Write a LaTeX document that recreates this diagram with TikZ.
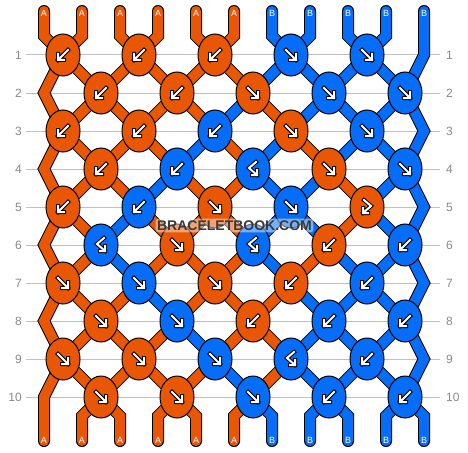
\documentclass[tikz,border=0pt]{standalone}
\usepackage{fontspec}
\setmainfont{Liberation Sans}
\usetikzlibrary{shapes.geometric}
\definecolor{kO}{RGB}{233,87,4}
\definecolor{kB}{RGB}{5,109,247}
\definecolor{gridgray}{RGB}{192,192,192}
\definecolor{numgray}{RGB}{138,138,138}
\definecolor{wmark}{RGB}{58,58,58}
\pgfdeclarelayer{gridlayer}
\pgfdeclarelayer{strandlayer}
\pgfsetlayers{gridlayer,strandlayer,main}
\tikzset{
  knot/.style={ellipse, draw=black, line width=1pt, minimum width=34pt, minimum height=42pt, inner sep=0pt},
  strandO/.style={line width=1pt, draw=black, double=kO, double distance=10pt, line cap=round, line join=miter},
  strandB/.style={line width=1pt, draw=black, double=kB, double distance=10pt, line cap=round, line join=miter},
  arrowstroke/.style={line cap=rect, line join=miter},
  rownum/.style={text=numgray, font=\fontsize{12}{12}\selectfont, inner sep=0pt},
  endlabel/.style={text=white, font=\fontsize{9}{9}\selectfont, inner sep=0pt},
  gridline/.style={draw=gridgray, line width=1pt},
  wm/.style={font=\bfseries\fontsize{14}{14}\selectfont, text=wmark, fill=white, fill opacity=0.45, text opacity=1, rounded corners=3pt, inner xsep=1.5pt, inner ysep=2pt},
}
\newcommand\Karrdl[1]{\begin{scope}[shift={(#1)}]\foreach \w/\cc in {4/black,2/white}{\draw[arrowstroke, line width=\w pt, draw=\cc] (5,-5) -- (-5,5) (-5,-1) -- (-5,5) -- (1,5);}\end{scope}}
\newcommand\Karrdr[1]{\begin{scope}[shift={(#1)}]\foreach \w/\cc in {4/black,2/white}{\draw[arrowstroke, line width=\w pt, draw=\cc] (-5,-5) -- (5,5) (5,-1) -- (5,5) -- (-1,5);}\end{scope}}
\newcommand\Karrbf[1]{\begin{scope}[shift={(#1)}]\foreach \w/\cc in {4/black,2/white}{\draw[arrowstroke, line width=\w pt, draw=\cc] (3,-7) -- (-4,-1) -- (4,6) (-1,6) -- (4,6) -- (4,1);}\end{scope}}
\newcommand\Karrfb[1]{\begin{scope}[shift={(#1)}]\foreach \w/\cc in {4/black,2/white}{\draw[arrowstroke, line width=\w pt, draw=\cc] (-3,-7) -- (4,-1) -- (-4,6) (1,6) -- (-4,6) -- (-4,1);}\end{scope}}
\begin{document}
\begin{tikzpicture}[x=1pt, y=-1pt]
\useasboundingbox (0,0) rectangle (468,452);
% ---------- knots ----------
\foreach \r/\j/\c/\a in {
 1/0/O/dl, 1/1/O/dl, 1/2/O/dl, 1/3/B/dr, 1/4/B/dr,
 2/0/O/dl, 2/1/O/dl, 2/2/O/dr, 2/3/B/dr, 2/4/B/dr,
 3/0/O/dl, 3/1/O/dl, 3/2/B/dl, 3/3/O/dr, 3/4/B/dr,
 4/0/O/dl, 4/1/B/dl, 4/2/B/bf, 4/3/O/dr, 4/4/B/dr,
 5/0/O/dl, 5/1/B/dl, 5/2/O/dr, 5/3/B/dr, 5/4/O/fb,
 6/0/B/bf, 6/1/O/dr, 6/2/B/bf, 6/3/O/dl, 6/4/B/dl,
 7/0/O/dr, 7/1/B/dr, 7/2/O/dr, 7/3/O/dl, 7/4/B/dl,
 8/0/O/dr, 8/1/B/dr, 8/2/O/dl, 8/3/B/dl, 8/4/B/dl,
 9/0/O/dr, 9/1/O/dr, 9/2/B/dr, 9/3/B/bf, 9/4/B/dl,
 10/0/O/dr, 10/1/O/dr, 10/2/B/dr, 10/3/B/dl, 10/4/B/dl} {
  \pgfmathsetmacro\xx{63+38*mod(\r+1,2)+76*\j}
  \pgfmathsetmacro\yy{55+38*(\r-1)}
  \node[knot, fill=k\c] (k-\r-\j) at (\xx,\yy) {};
  \csname Karr\a\endcsname{k-\r-\j}
}
% ---------- strand points per row ----------
\foreach \r in {1,...,10} {
  \pgfmathtruncatemacro\odd{mod(\r,2)}
  \pgfmathsetmacro\yy{55+38*(\r-1)}
  \foreach \p in {0,...,10} {
    \ifnum\odd=1
      \ifnum\p=10 \coordinate (c-\r-\p) at (424,\yy);
      \else \pgfmathtruncatemacro\jj{\p/2}\coordinate (c-\r-\p) at (k-\r-\jj.center);
      \fi
    \else
      \ifnum\p=0 \coordinate (c-\r-\p) at (44,\yy);
      \else \pgfmathtruncatemacro\jj{(\p-1)/2}\coordinate (c-\r-\p) at (k-\r-\jj.center);
      \fi
    \fi
  }
}
% ---------- ends ----------
\foreach \q in {0,...,10} {
  \pgfmathsetmacro\xq{44+38*\q}
  \coordinate (t-\q) at (\xq,11);
  \coordinate (tb-\q) at (\xq,36);
  \coordinate (bb-\q) at (\xq,416);
  \coordinate (be-\q) at (\xq,441);
}
% ---------- grid ----------
\begin{pgfonlayer}{gridlayer}
  \fill[white] (0,0) rectangle (468,452);
  \foreach \r in {1,...,10} {
    \pgfmathsetmacro\yy{55+38*(\r-1)}
    \draw[gridline] (26,\yy) -- (440,\yy);
    \node[rownum, anchor=east] (ln-\r) at (22,\yy) {\r};
    \node[rownum, anchor=west] (rn-\r) at (446,\yy) {\r};
  }
\end{pgfonlayer}
% ---------- strands ----------
\begin{pgfonlayer}{strandlayer}
\draw[strandO] (t-0) -- (tb-0) -- (c-1-0) -- (c-2-1) -- (c-3-2) -- (c-4-3) -- (c-5-4) -- (c-6-5) -- (c-7-5) -- (c-8-4) -- (c-9-3) -- (c-10-2) -- (bb-1) -- (be-1);
\draw[strandO] (t-1) -- (tb-1) -- (c-1-1) -- (c-2-0) -- (c-3-0) -- (c-4-1) -- (c-5-2) -- (c-6-3) -- (c-7-4) -- (c-8-5) -- (c-9-6) -- (c-10-6) -- (bb-5) -- (be-5);
\draw[strandO] (t-2) -- (tb-2) -- (c-1-2) -- (c-2-3) -- (c-3-4) -- (c-4-5) -- (c-5-5) -- (c-6-4) -- (c-7-3) -- (c-8-2) -- (c-9-1) -- (c-10-0) -- (bb-0) -- (be-0);
\draw[strandO] (t-3) -- (tb-3) -- (c-1-3) -- (c-2-2) -- (c-3-1) -- (c-4-0) -- (c-5-0) -- (c-6-1) -- (c-7-1) -- (c-8-0) -- (c-9-0) -- (c-10-1) -- (bb-2) -- (be-2);
\draw[strandO] (t-4) -- (tb-4) -- (c-1-4) -- (c-2-5) -- (c-3-6) -- (c-4-7) -- (c-5-8) -- (c-6-8) -- (c-7-7) -- (c-8-6) -- (c-9-5) -- (c-10-4) -- (bb-3) -- (be-3);
\draw[strandO] (t-5) -- (tb-5) -- (c-1-5) -- (c-2-4) -- (c-3-3) -- (c-4-2) -- (c-5-1) -- (c-6-0) -- (c-7-0) -- (c-8-1) -- (c-9-2) -- (c-10-3) -- (bb-4) -- (be-4);
\draw[strandB] (t-6) -- (tb-6) -- (c-1-6) -- (c-2-7) -- (c-3-8) -- (c-4-9) -- (c-5-10) -- (c-6-10) -- (c-7-9) -- (c-8-8) -- (c-9-7) -- (c-10-7) -- (bb-8) -- (be-8);
\draw[strandB] (t-7) -- (tb-7) -- (c-1-7) -- (c-2-6) -- (c-3-5) -- (c-4-4) -- (c-5-3) -- (c-6-2) -- (c-7-2) -- (c-8-3) -- (c-9-4) -- (c-10-5) -- (bb-6) -- (be-6);
\draw[strandB] (t-8) -- (tb-8) -- (c-1-8) -- (c-2-9) -- (c-3-10) -- (c-4-10) -- (c-5-9) -- (c-6-9) -- (c-7-10) -- (c-8-10) -- (c-9-9) -- (c-10-8) -- (bb-7) -- (be-7);
\draw[strandB] (t-9) -- (tb-9) -- (c-1-9) -- (c-2-8) -- (c-3-7) -- (c-4-6) -- (c-5-6) -- (c-6-7) -- (c-7-8) -- (c-8-9) -- (c-9-10) -- (c-10-10) -- (bb-9) -- (be-9);
\draw[strandB] (t-10) -- (tb-10) -- (c-1-10) -- (c-2-10) -- (c-3-9) -- (c-4-8) -- (c-5-7) -- (c-6-6) -- (c-7-6) -- (c-8-7) -- (c-9-8) -- (c-10-9) -- (bb-10) -- (be-10);
\end{pgfonlayer}
% ---------- labels over strands ----------
\foreach \q/\l in {0/A,1/A,2/A,3/A,4/A,5/A,6/B,7/B,8/B,9/B,10/B} {
  \pgfmathsetmacro\xq{44+38*\q}
  \node[endlabel] (tl-\q) at (\xq,13) {\l};
  \node[endlabel] (bl-\q) at (\xq,440) {\l};
}
% ---------- watermark ----------
\node[wm] (wmark) at (234.5,225.5) {BRACELETBOOK.COM};
\end{tikzpicture}
\end{document}
